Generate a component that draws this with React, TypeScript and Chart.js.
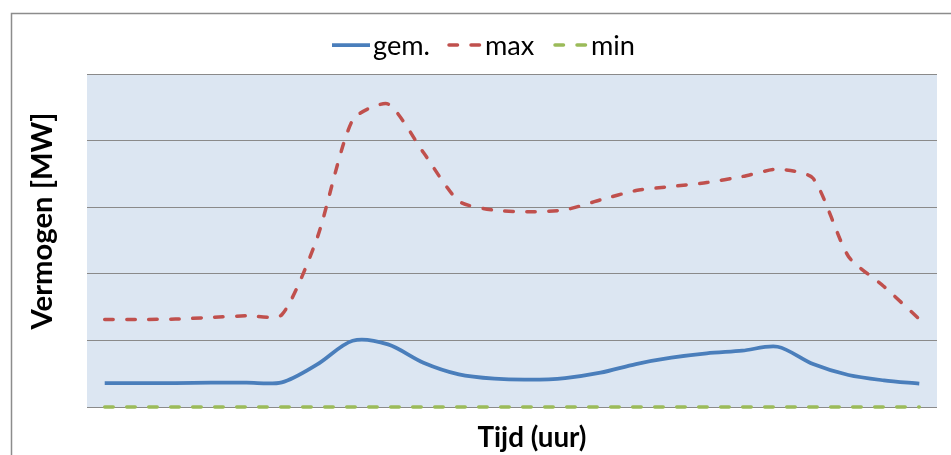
import React, { useEffect, useRef } from "react";
import { Chart, registerables } from "chart.js";

Chart.register(...registerables);

const hours = ["1","2","3","4","5","6","7","8","9","10","11","12","13","14","15","16","17","18","19","20","21","22","23","24"];
const gemValues = [3.6, 3.6, 3.6, 3.65, 3.65, 3.7, 6.4, 9.95, 9.4, 6.65, 4.9, 4.25, 4.1, 4.35, 5.15, 6.45, 7.4, 8.05, 8.45, 9.05, 6.45, 4.8, 4.0, 3.5];
const maxValues = [13.15, 13.15, 13.2, 13.45, 13.7, 13.85, 25.4, 43.1, 45.5, 38.2, 30.9, 29.55, 29.3, 29.6, 31.1, 32.5, 33.1, 33.7, 34.6, 35.7, 34.35, 22.6, 18.1, 13.2];
const minValues = [0, 0, 0, 0, 0, 0, 0, 0, 0, 0, 0, 0, 0, 0, 0, 0, 0, 0, 0, 0, 0, 0, 0, 0];
const seriesNames = ["gem.", "max", "min"];
const yAxisTitle = "Vermogen [MW]";
const xAxisTitle = "Tijd (uur)";

const FONT = "Lato, 'Open Sans', 'Liberation Sans', sans-serif";

function fitFont(ctx: CanvasRenderingContext2D, text: string, weight: string, target: number) {
  let size = 20;
  ctx.font = `${weight} ${size}px ${FONT}`;
  const w = ctx.measureText(text).width;
  size = (size * target) / w;
  return `${weight} ${size.toFixed(2)}px ${FONT}`;
}

const decorPlugin = {
  id: "decor",
  beforeDraw(chart: any) {
    const { ctx, chartArea } = chart;
    ctx.save();
    ctx.fillStyle = "#ffffff";
    ctx.fillRect(0, 0, chart.width, chart.height);
    ctx.strokeStyle = "#8c8c8c";
    ctx.lineWidth = 1.5;
    ctx.beginPath();
    ctx.moveTo(11.5, chart.height + 5);
    ctx.lineTo(11.5, 13.5);
    ctx.lineTo(chart.width + 5, 13.5);
    ctx.stroke();
    ctx.fillStyle = "#dce6f2";
    ctx.fillRect(chartArea.left, chartArea.top, chartArea.right - chartArea.left, chartArea.bottom - chartArea.top);
    ctx.restore();
  },
  afterDraw(chart: any) {
    const { ctx } = chart;
    ctx.save();
    ctx.fillStyle = "#000000";
    ctx.font = fitFont(ctx, yAxisTitle, "bold", 217);
    ctx.translate(43, 221);
    ctx.rotate(-Math.PI / 2);
    ctx.textAlign = "center";
    ctx.textBaseline = "middle";
    ctx.fillText(yAxisTitle, 0, 0);
    ctx.setTransform(1, 0, 0, 1, 0, 0);
    ctx.font = fitFont(ctx, xAxisTitle, "bold", 109);
    ctx.textAlign = "center";
    ctx.textBaseline = "alphabetic";
    ctx.fillText(xAxisTitle, 532, 447);
    const sampleStart = [332, 447, 553];
    const sampleLen = [38, 35, 35];
    ctx.font = fitFont(ctx, "gem.", "normal", 57);
    ctx.textAlign = "left";
    ctx.textBaseline = "middle";
    chart.data.datasets.forEach((ds: any, i: number) => {
      ctx.save();
      ctx.strokeStyle = ds.borderColor;
      ctx.lineWidth = ds.borderWidth;
      const dashed = ds.borderDash && ds.borderDash.length;
      ctx.lineCap = dashed ? "round" : "butt";
      ctx.setLineDash(ds.borderDash || []);
      const x0 = sampleStart[i] + (dashed ? 2 : 0);
      ctx.beginPath();
      ctx.moveTo(x0, 45);
      ctx.lineTo(sampleStart[i] + sampleLen[i], 45);
      ctx.stroke();
      ctx.restore();
      ctx.fillText(ds.label, sampleStart[i] + sampleLen[i] + 3, 46);
    });
    ctx.restore();
  },
};

export default function App() {
  const ref = useRef<HTMLCanvasElement | null>(null);
  useEffect(() => {
    document.body.style.margin = "0";
    const canvas = ref.current!;
    const chart = new Chart(canvas, {
      type: "line",
      data: {
        labels: hours,
        datasets: [
          {
            label: seriesNames[0],
            data: gemValues,
            borderColor: "#4a7ebb",
            borderWidth: 3.75,
            pointRadius: 0,
            tension: 0.3,
            fill: false,
            clip: 6,
          } as any,
          {
            label: seriesNames[1],
            data: maxValues,
            borderColor: "#c0504d",
            borderWidth: 3.5,
            borderDash: [8.5, 13.5],
            borderCapStyle: "round",
            pointRadius: 0,
            tension: 0.22,
            fill: false,
            clip: 6,
          } as any,
          {
            label: seriesNames[2],
            data: minValues,
            borderColor: "#9bbb59",
            borderWidth: 3.5,
            borderDash: [8.5, 13.5],
            borderCapStyle: "round",
            pointRadius: 0,
            tension: 0,
            fill: false,
            clip: 6,
          } as any,
        ],
      },
      options: {
        responsive: false,
        animation: false,
        events: [],
        layout: { padding: { left: 87, right: 14, top: 74, bottom: 48 } },
        plugins: { legend: { display: false }, tooltip: { enabled: false }, title: { display: false } },
        scales: {
          x: { type: "category", display: false, offset: true },
          y: {
            min: 0,
            max: 50,
            ticks: { display: false, stepSize: 10 },
            grid: { color: "#8a8a8a", lineWidth: 1, drawTicks: false },
            border: { display: false },
          },
        },
      },
      plugins: [decorPlugin],
    });
    return () => chart.destroy();
  }, []);
  return (
    <div style={{ width: 951, height: 455 }}>
      <canvas ref={ref} width={951} height={455} />
    </div>
  );
}
